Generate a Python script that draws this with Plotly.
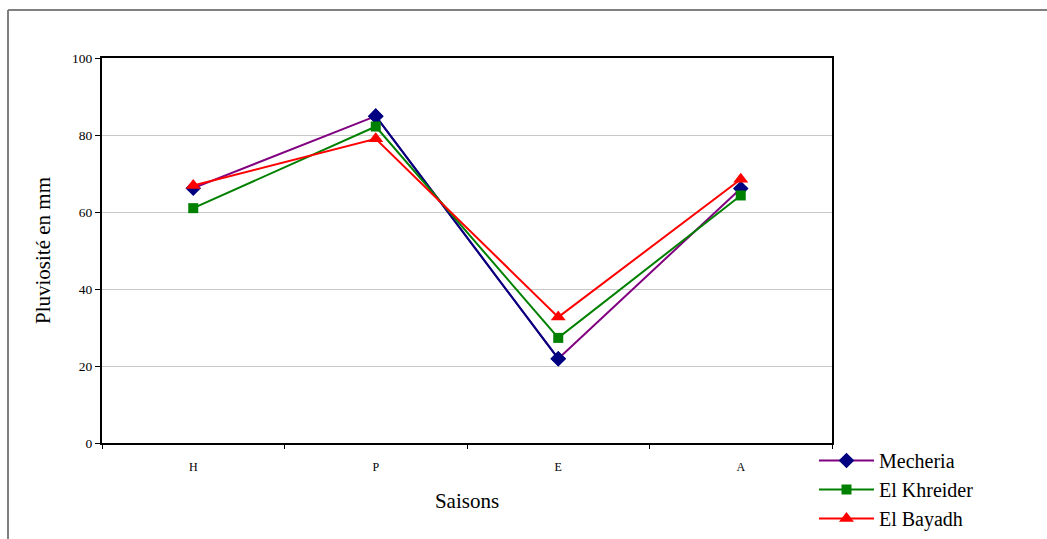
import plotly.graph_objects as go

saisons = ["H", "P", "E", "A"]
mecheria = [66.2, 84.9, 21.9, 66.1]
el_khreider = [61.0, 82.2, 27.3, 64.3]
el_bayadh = [66.9, 79.0, 32.7, 68.5]

FONT = "Liberation Serif, Times New Roman, serif"

fig = go.Figure()

fig.add_trace(go.Scatter(
    x=saisons, y=mecheria, mode="lines+markers", name="Mecheria",
    line=dict(color="#800080", width=2),
    marker=dict(symbol="diamond", size=12, color="#000080"),
))
# segment P->E drawn in navy, as in the original
fig.add_trace(go.Scatter(
    x=saisons[1:3], y=mecheria[1:3], mode="lines+markers", showlegend=False,
    line=dict(color="#000080", width=2),
    marker=dict(symbol="diamond", size=12, color="#000080"),
    hoverinfo="skip",
))
fig.add_trace(go.Scatter(
    x=saisons, y=el_khreider, mode="lines+markers", name="El Khreider",
    line=dict(color="#008000", width=2),
    marker=dict(symbol="square", size=10, color="#008000"),
))
fig.add_trace(go.Scatter(
    x=saisons, y=el_bayadh, mode="lines+markers", name="El Bayadh",
    line=dict(color="#FF0000", width=2),
    marker=dict(symbol="triangle-up", size=13, color="#FF0000"),
))

W, H = 1047, 539
L, R, T, B = 102, 215, 58, 96
pw, ph = W - L - R, H - T - B

def px(xp):
    return (xp - L) / pw

def py(yp):
    return (H - B - yp) / ph

fig.update_layout(
    width=W, height=H,
    margin=dict(l=L, r=R, t=T, b=B, autoexpand=False),
    paper_bgcolor="white", plot_bgcolor="white",
    font=dict(family=FONT, color="black"),
    showlegend=True,
    legend=dict(
        x=px(814), y=py(441), xanchor="left", yanchor="top",
        font=dict(family=FONT, size=20, color="black"),
        bgcolor="rgba(0,0,0,0)", tracegroupgap=0, itemwidth=55,
    ),
    xaxis=dict(
        type="category", range=[-0.5, 3.5],
        showline=True, linecolor="black", linewidth=2, mirror=True,
        ticks="outside", tickson="boundaries", ticklen=4, tickcolor="black",
        ticklabelstandoff=12,
        showgrid=False, tickfont=dict(family=FONT, size=12),
        title=dict(text="Saisons", font=dict(family=FONT, size=21), standoff=20),
    ),
    yaxis=dict(
        range=[0, 100], dtick=20,
        showline=True, linecolor="black", linewidth=2, mirror=True,
        ticks="outside", ticklen=5, tickcolor="black",
        showgrid=True, gridcolor="#C8C8C8", gridwidth=1, zeroline=False,
        tickfont=dict(family=FONT, size=13.5),
        title=dict(text="Pluviosité en mm", font=dict(family=FONT, size=21), standoff=16),
    ),
    shapes=[
        dict(type="line", xref="paper", yref="paper",
             x0=px(8), x1=px(1060), y0=py(10), y1=py(10),
             line=dict(color="#808080", width=2)),
        dict(type="line", xref="paper", yref="paper",
             x0=px(8), x1=px(8), y0=py(10), y1=py(560),
             line=dict(color="#808080", width=2)),
    ],
)

fig.write_html(
    "out.html",
    config={"displayModeBar": False},
    post_script="document.body.style.margin='0';document.body.style.overflow='hidden';",
)
